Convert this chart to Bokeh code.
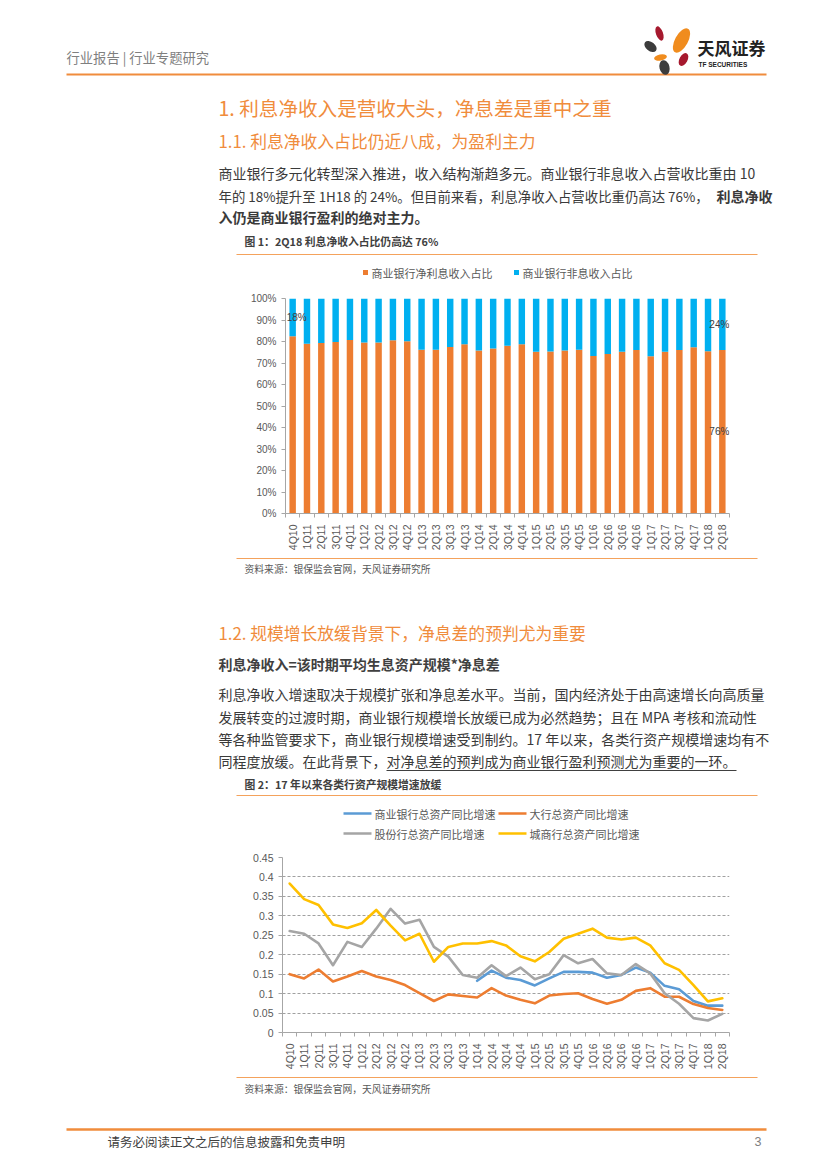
import math
from bokeh.plotting import figure
from bokeh.layouts import column
from bokeh.models import Range1d, FixedTicker, PrintfTickFormatter, CustomJSTickFormatter
from bokeh.core.properties import value
from bokeh.embed import file_html
from bokeh.resources import INLINE

NAN = float("nan")

# ---------------- data ----------------
quarters = ["4Q10", "1Q11", "2Q11", "3Q11", "4Q11", "1Q12", "2Q12", "3Q12", "4Q12",
            "1Q13", "2Q13", "3Q13", "4Q13", "1Q14", "2Q14", "3Q14", "4Q14",
            "1Q15", "2Q15", "3Q15", "4Q15", "1Q16", "2Q16", "3Q16", "4Q16",
            "1Q17", "2Q17", "3Q17", "4Q17", "1Q18", "2Q18"]

# chart 1: share of net interest income in operating revenue (%)
nii_share = [82.5, 79.0, 79.3, 79.8, 80.7, 79.5, 79.5, 80.6, 80.1, 76.2, 76.2, 77.5, 78.7,
             75.8, 76.7, 78.0, 78.7, 75.2, 75.3, 75.8, 76.2, 73.3, 74.2, 75.2, 76.1,
             73.1, 75.2, 76.1, 77.3, 75.5, 76.1]
series1_names = ["商业银行净利息收入占比", "商业银行非息收入占比"]

# chart 2: total asset growth YoY
bank_all = [NAN] * 13 + [0.133, 0.159, 0.141, 0.135, 0.121, 0.139, 0.156, 0.156, 0.154,
                         0.141, 0.148, 0.167, 0.154, 0.120, 0.111, 0.081, 0.069, 0.069]
big_banks = [0.150, 0.139, 0.162, 0.131, 0.144, 0.158, 0.144, 0.135, 0.122, 0.101, 0.081,
             0.098, 0.094, 0.090, 0.114, 0.095, 0.084, 0.075, 0.095, 0.099, 0.101, 0.086,
             0.074, 0.084, 0.107, 0.114, 0.092, 0.092, 0.073, 0.063, 0.058]
joint_stock = [0.261, 0.254, 0.229, 0.173, 0.233, 0.220, 0.267, 0.318, 0.280, 0.290, 0.220,
               0.195, 0.148, 0.141, 0.173, 0.145, 0.167, 0.137, 0.150, 0.199, 0.178, 0.189,
               0.152, 0.148, 0.176, 0.152, 0.101, 0.074, 0.037, 0.031, 0.048]
city_banks = [0.383, 0.343, 0.328, 0.278, 0.269, 0.281, 0.315, 0.275, 0.237, 0.254, 0.182,
              0.220, 0.229, 0.229, 0.235, 0.224, 0.196, 0.183, 0.207, 0.241, 0.254, 0.267,
              0.244, 0.239, 0.244, 0.224, 0.178, 0.161, 0.122, 0.080, 0.088]
series2_names = ["商业银行总资产同比增速", "大行总资产同比增速", "股份行总资产同比增速", "城商行总资产同比增速"]
y2_ticks = [0, 0.05, 0.1, 0.15, 0.2, 0.25, 0.3, 0.35, 0.4, 0.45]
y1_ticks = [0, 10, 20, 30, 40, 50, 60, 70, 80, 90, 100]

# ---------------- styles ----------------
W = 827
CJK = "Noto Sans CJK SC"
LAT = "Liberation Sans"
ORANGE_H = "#F08C3C"
TXT = "#3A3A3A"
GREY = "#7F7F7F"
C_ORANGE = "#ED7D31"
C_BLUE = "#00B0F0"
C2 = ["#5B9BD5", "#ED7D31", "#A5A5A5", "#FFC000"]
RULE = "#F4A25C"
AXC = "#A6A6A6"
LBL = "#595959"


def band(y0, y1):
    p = figure(width=W, height=y1 - y0, x_range=Range1d(0, W), y_range=Range1d(y1, y0),
               output_backend="svg", toolbar_location=None, min_border=0,
               x_axis_location=None, y_axis_location=None)
    p.grid.visible = False
    p.outline_line_color = None
    p.frame_align = False
    return p


def txt(p, x, y, s, size, color=TXT, font=CJK, style="normal", align="left"):
    p.text(x=[x], y=[y], text=[s], text_font=value(font), text_font_size=f"{size}px",
           text_color=color, text_font_style=style, text_align=align, text_baseline="middle")


def rule(p, x0, x1, y, color=RULE, w=1.2):
    p.segment(x0=[x0], y0=[y], x1=[x1], y1=[y], line_color=color, line_width=w)


def style_axes(p, ylab_size):
    p.xaxis.ticker = FixedTicker(ticks=list(range(len(quarters))),
                                 minor_ticks=[i - 0.5 for i in range(len(quarters) + 1)])
    p.xaxis.major_label_overrides = {i: q for i, q in enumerate(quarters)}
    p.xaxis.major_label_orientation = math.pi / 2
    for ax in (p.xaxis, p.yaxis):
        ax.axis_line_color = AXC
        ax.major_label_text_font = LAT
        ax.major_label_text_color = LBL
        ax.major_label_standoff = 5
    p.xaxis.major_label_text_font_size = "10.5px"
    p.yaxis.major_label_text_font_size = ylab_size
    p.xaxis.major_tick_line_color = None
    p.xaxis.minor_tick_line_color = AXC
    p.xaxis.minor_tick_in = 0
    p.xaxis.minor_tick_out = 4
    p.yaxis.major_tick_line_color = AXC
    p.yaxis.major_tick_in = 0
    p.yaxis.major_tick_out = 4
    p.yaxis.minor_tick_line_color = None


# ---------------- band A (header, section 1, chart1 caption & legend) ----------------
A0, A1 = 0, 288
pa = band(A0, A1)
txt(pa, 66, 57, "行业报告 | 行业专题研究", 13.3, GREY)
rule(pa, 66, 766, 74, "#F08C3C", 2.2)
# logo petals
pet_x = [659, 681, 650, 660, 683, 664]
pet_y = [33, 40, 46, 57, 59, 67]
pet_w = [7, 13, 9, 13, 8, 10]
pet_h = [15, 27, 14, 6, 14, 15]
pet_a = [0.35, -0.5, 0.9, 0.2, -0.5, 0.25]
pet_c = ["#A6192E", "#F08C1E", "#3C3C3C", "#F08C1E", "#A6192E", "#3C3C3C"]
pa.ellipse(x=pet_x, y=pet_y, width=pet_w, height=pet_h, angle=pet_a, fill_color=pet_c, line_color=None)
txt(pa, 697, 47, "天风证券", 17, "#222222", style="bold")
txt(pa, 698, 63.5, "TF SECURITIES", 6.5, "#222222", font=LAT, style="bold")

txt(pa, 218, 107, "1. 利息净收入是营收大头，净息差是重中之重", 19.6, ORANGE_H)
txt(pa, 218, 140, "1.1. 利息净收入占比仍近八成，为盈利主力", 16.8, ORANGE_H)
txt(pa, 218, 172, "商业银行多元化转型深入推进，收入结构渐趋多元。商业银行非息收入占营收比重由 10", 14)
txt(pa, 218, 195, "年的 18%提升至 1H18 的 24%。但目前来看，利息净收入占营收比重仍高达 76%，", 13.4)
txt(pa, 772, 195, "利息净收", 14, style="bold", align="right")
txt(pa, 218, 216, "入仍是商业银行盈利的绝对主力。", 14, style="bold")

txt(pa, 244, 240, "图 1：2Q18 利息净收入占比仍高达 76%", 10.8, "#404040", style="bold")
rule(pa, 236, 757, 254)
pa.rect(x=[365, 516], y=[272, 272], width=5, height=5, fill_color=[C_ORANGE, C_BLUE], line_color=None)
txt(pa, 371, 272, series1_names[0], 11, LBL)
txt(pa, 522, 272, series1_names[1], 11, LBL)

# ---------------- chart 1 ----------------
idx = list(range(len(quarters)))
p1 = figure(width=W, height=268, x_range=Range1d(-0.5, len(quarters) - 0.5), y_range=Range1d(0, 100),
            output_backend="svg", toolbar_location=None,
            min_border_left=285, min_border_right=98, min_border_top=10, min_border_bottom=43)
p1.frame_align = False
p1.outline_line_color = None
p1.grid.visible = False
p1.vbar(x=idx, bottom=0, top=nii_share, width=0.45, fill_color=C_ORANGE, line_color=None)
p1.vbar(x=idx, bottom=nii_share, top=100, width=0.45, fill_color=C_BLUE, line_color=None)
# data labels (first and last bar), at segment centres
first, last = 0, len(quarters) - 1
lab_style = dict(text_font=value(LAT), text_font_size="10px", text_color="#404040", text_baseline="middle")
p1.text(x=[first], y=[(nii_share[first] + 100) / 2], text=[f"{round(100 - nii_share[first])}%"],
        text_align="left", x_offset=-6, **lab_style)
p1.text(x=[last, last], y=[(nii_share[last] + 100) / 2, nii_share[last] / 2],
        text=[f"{round(100 - nii_share[last])}%", f"{round(nii_share[last])}%"],
        text_align="right", x_offset=7, **lab_style)
p1.yaxis.ticker = FixedTicker(ticks=y1_ticks)
p1.yaxis.formatter = PrintfTickFormatter(format="%d%%")
style_axes(p1, "10px")

# ---------------- band B ----------------
B0, B1 = 556, 848
pb = band(B0, B1)
rule(pb, 236, 757, 558)
txt(pb, 244, 568, "资料来源：银保监会官网，天风证券研究所", 9.8, "#595959")
txt(pb, 218, 632, "1.2. 规模增长放缓背景下，净息差的预判尤为重要", 16.8, ORANGE_H)
txt(pb, 218, 663, "利息净收入=该时期平均生息资产规模*净息差", 14, "#404040", style="bold")
txt(pb, 218, 693, "利息净收入增速取决于规模扩张和净息差水平。当前，国内经济处于由高速增长向高质量", 14)
txt(pb, 218, 716, "发展转变的过渡时期，商业银行规模增长放缓已成为必然趋势；且在 MPA 考核和流动性", 14)
txt(pb, 218, 738, "等各种监管要求下，商业银行规模增速受到制约。17 年以来，各类行资产规模增速均有不", 14)
txt(pb, 218, 760, "同程度放缓。在此背景下，对净息差的预判成为商业银行盈利预测尤为重要的一环。", 14)
rule(pb, 386, 736, 770, "#404040", 1)
txt(pb, 244, 783, "图 2：17 年以来各类行资产规模增速放缓", 10.8, "#404040", style="bold")
rule(pb, 236, 757, 795)
leg_x0 = [343, 498, 343, 498]
leg_y = [813, 813, 833, 833]
pb.segment(x0=leg_x0, y0=leg_y, x1=[x + 28 for x in leg_x0], y1=leg_y, line_color=C2, line_width=2.5)
for name, x, y in zip(series2_names, leg_x0, leg_y):
    txt(pb, x + 31, y, name, 11, LBL)

# ---------------- chart 2 ----------------
p2 = figure(width=W, height=226, x_range=Range1d(-0.5, len(quarters) - 0.5), y_range=Range1d(0, 0.45),
            output_backend="svg", toolbar_location=None,
            min_border_left=282, min_border_right=98, min_border_top=9, min_border_bottom=42)
p2.frame_align = False
p2.outline_line_color = None
p2.xgrid.visible = False
p2.ygrid.ticker = FixedTicker(ticks=y2_ticks)
p2.ygrid.grid_line_color = "#A0A0A0"
p2.ygrid.grid_line_dash = "3 2"
p2.ygrid.grid_line_width = 1
for ys, c in zip([bank_all, big_banks, joint_stock, city_banks], C2):
    p2.line(x=idx, y=ys, line_color=c, line_width=2.6, line_join="round", line_cap="round")
p2.yaxis.ticker = FixedTicker(ticks=y2_ticks)
p2.yaxis.formatter = CustomJSTickFormatter(code="return String(Math.round(tick*100)/100);")
style_axes(p2, "10.5px")

# ---------------- band C (footer) ----------------
C0, C1 = 1074, 1169
pc = band(C0, C1)
rule(pc, 236, 757, 1077)
txt(pc, 244, 1088, "资料来源：银保监会官网，天风证券研究所", 9.8, "#595959")
rule(pc, 66, 766, 1129, "#F08C3C", 2.5)
txt(pc, 107, 1141, "请务必阅读正文之后的信息披露和免责申明", 12.5, "#404040")
txt(pc, 761, 1141, "3", 12.5, "#7F7F7F", font=LAT, align="right")

page = column(pa, p1, pb, p2, pc, spacing=0)
open("out.html", "w").write(file_html(page, INLINE))
